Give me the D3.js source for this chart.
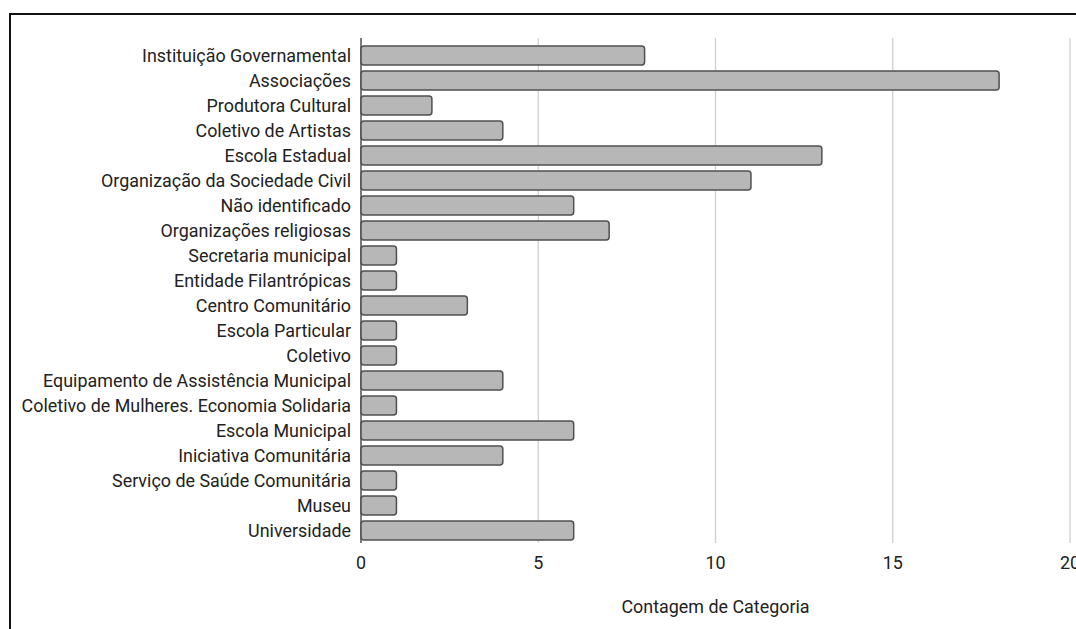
<!DOCTYPE html>
<html>
<head>
<meta charset="utf-8">
<script src="https://cdn.jsdelivr.net/npm/d3@7"></script>
<style>
  body { margin: 0; background: #fff; }
  svg { display: block; font-family: Roboto, "Noto Sans", sans-serif; }
</style>
</head>
<body>
<svg id="chart" width="1076" height="629"></svg>
<script>
var categories = ["Instituição Governamental", "Associações", "Produtora Cultural", "Coletivo de Artistas",
    "Escola Estadual", "Organização da Sociedade Civil", "Não identificado", "Organizações religiosas",
    "Secretaria municipal", "Entidade Filantrópicas", "Centro Comunitário", "Escola Particular", "Coletivo",
    "Equipamento de Assistência Municipal", "Coletivo de Mulheres. Economia Solidaria", "Escola Municipal",
    "Iniciativa Comunitária", "Serviço de Saúde Comunitária", "Museu", "Universidade"];
var counts = [8, 18, 2, 4, 13, 11, 6, 7, 1, 1, 3, 1, 1, 4, 1, 6, 4, 1, 1, 6];
var xTicks = [0, 5, 10, 15, 20];
var axisTitle = "Contagem de Categoria";

var data = categories.map(function(c, i) { return {name: c, value: counts[i]}; });

var svg = d3.select("#chart"),
    margin = {top: 43, left: 361, bottom: 86, right: 6},
    width = 1076,
    height = 629,
    fontSize = 17.9;

// frame around the chart, runs off the right and bottom edges
svg.append("rect")
    .attr("x", 10).attr("y", 14)
    .attr("width", 1100).attr("height", 700)
    .attr("fill", "none")
    .attr("stroke", "#111")
    .attr("stroke-width", 2);

var xScale = d3.scaleLinear()
    .domain([0, 20])
    .range([margin.left, margin.left + 20 * 35.45]);

var yScale = d3.scaleBand()
    .domain(categories)
    .range([margin.top, height - margin.bottom])
    .paddingInner(0.24)
    .paddingOuter(0.12);

// gridlines
svg.append("g").selectAll("line")
    .data(xTicks.slice(1))
    .enter().append("line")
    .attr("x1", d => xScale(d)).attr("x2", d => xScale(d))
    .attr("y1", 38).attr("y2", height - margin.bottom)
    .attr("stroke", "#cfcfcf")
    .attr("stroke-width", 1.3);

// y axis line
svg.append("line")
    .attr("x1", xScale(0)).attr("x2", xScale(0))
    .attr("y1", 38).attr("y2", height - margin.bottom)
    .attr("stroke", "#333")
    .attr("stroke-width", 1.3);

svg.append("g").selectAll("rect")
    .data(data)
    .enter().append("rect")
    .attr("x", xScale(0))
    .attr("y", d => yScale(d.name))
    .attr("width", d => xScale(d.value) - xScale(0))
    .attr("height", yScale.bandwidth())
    .attr("rx", 3)
    .attr("fill", "#b7b7b7")
    .attr("stroke", "#505050")
    .attr("stroke-width", 1.5);

// category labels
svg.append("g").selectAll("text")
    .data(data)
    .enter().append("text")
    .attr("x", xScale(0) - 10)
    .attr("y", d => yScale(d.name) + yScale.bandwidth() / 2)
    .attr("dy", "0.35em")
    .attr("text-anchor", "end")
    .attr("font-size", fontSize)
    .attr("fill", "#222")
    .text(d => d.name);

// x tick labels
svg.append("g").selectAll("text")
    .data(xTicks)
    .enter().append("text")
    .attr("x", d => xScale(d))
    .attr("y", 563)
    .attr("dy", "0.35em")
    .attr("text-anchor", "middle")
    .attr("font-size", fontSize)
    .attr("fill", "#222")
    .text(d => d);

svg.append("text")
    .attr("x", xScale(10))
    .attr("y", 607)
    .attr("dy", "0.35em")
    .attr("text-anchor", "middle")
    .attr("font-size", fontSize)
    .attr("fill", "#222")
    .text(axisTitle);
</script>
</body>
</html>
